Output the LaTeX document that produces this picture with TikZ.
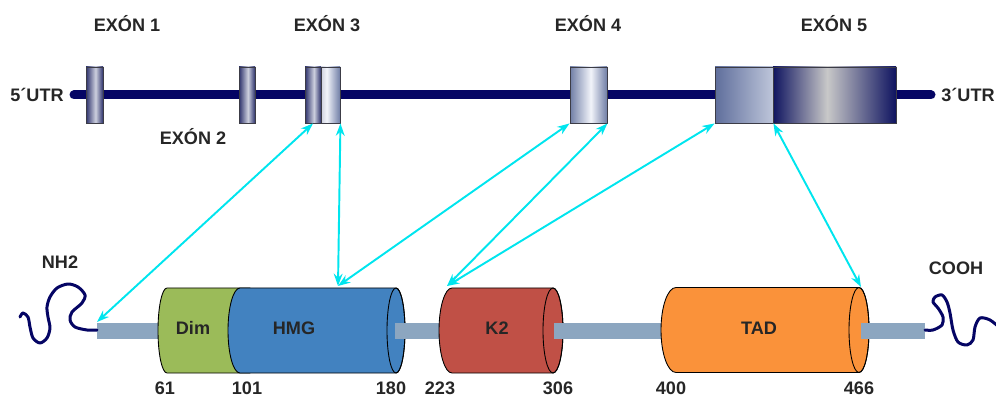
\documentclass[tikz,border=0pt]{standalone}
\usepackage{fontspec}
\setmainfont{Liberation Sans}
\usetikzlibrary{arrows.meta}

\definecolor{gene}{RGB}{5,5,100}
\definecolor{link}{RGB}{0,229,238}
\definecolor{linker}{RGB}{140,166,192}
\definecolor{dimc}{RGB}{155,187,89}
\definecolor{hmgc}{RGB}{66,130,192}
\definecolor{ktwo}{RGB}{192,80,70}
\definecolor{tadc}{RGB}{250,146,58}
\definecolor{exline}{RGB}{60,60,70}

% shadings of the exons (gradient sits between 25bp and 75bp)
\definecolor{sdark}{RGB}{45,50,108}
\definecolor{slight}{RGB}{205,208,222}
\definecolor{swhite}{RGB}{242,244,250}
\definecolor{sgrey}{RGB}{112,126,166}
\definecolor{sblue}{RGB}{95,110,156}
\definecolor{spale}{RGB}{190,198,218}
\definecolor{snavy}{RGB}{15,20,96}
\definecolor{ssilver}{RGB}{200,200,200}
\pgfdeclarehorizontalshading{exdark}{100bp}{color(0bp)=(sdark); color(25bp)=(sdark);
  color(53bp)=(slight); color(75bp)=(sdark); color(100bp)=(sdark)}
\pgfdeclarehorizontalshading{exwhite}{100bp}{color(0bp)=(slight); color(25bp)=(slight);
  color(40bp)=(swhite); color(75bp)=(sgrey); color(100bp)=(sgrey)}
\pgfdeclarehorizontalshading{exmid}{100bp}{color(0bp)=(sgrey); color(25bp)=(sgrey);
  color(53bp)=(swhite); color(75bp)=(sgrey); color(100bp)=(sgrey)}
\pgfdeclarehorizontalshading{exfade}{100bp}{color(0bp)=(sblue); color(25bp)=(sblue);
  color(75bp)=(spale); color(100bp)=(spale)}
\pgfdeclarehorizontalshading{exnavy}{100bp}{color(0bp)=(snavy); color(25bp)=(snavy);
  color(47bp)=(ssilver); color(75bp)=(snavy); color(100bp)=(snavy)}

\begin{document}
\begin{tikzpicture}[x=0.2mm,y=0.2mm,font=\fontsize{10.3}{12}\selectfont\bfseries]

\tikzstyle{exon}=[rectangle,draw=exline,line width=0.5pt,inner sep=0pt,minimum height=11.2mm]
\tikzstyle{lbl}=[inner sep=0pt,text=black!85]
\tikzstyle{pair}=[{Stealth[length=7pt,width=5pt]}-{Stealth[length=7pt,width=5pt]},link,line width=1.1pt]
\tikzstyle{wire}=[gene,line width=0.6mm,line cap=round,line join=round]

\useasboundingbox (0,0) rectangle (996,396);

% gene
\node[lbl,anchor=east] (u5) at (64,301) {5´UTR};
\node[lbl,anchor=west] (u3) at (941,301) {3´UTR};
\draw[gene,line width=1.8mm,line cap=round] ([xshift=2mm]u5.east) -- ([xshift=-2mm]u3.west);

\node[exon,minimum width=3.4mm,shading=exdark]  (e1)  at (94.5,301) {};
\node[exon,minimum width=3.2mm,shading=exdark]  (e2)  at (247,301) {};
\node[exon,minimum width=3.2mm,shading=exdark]  (e3a) at (313,301) {};
\node[exon,minimum width=3.8mm,shading=exwhite] (e3b) at (330.5,301) {};
\node[exon,minimum width=7.4mm,shading=exmid]   (e4)  at (588.5,301) {};
\node[exon,minimum width=11.6mm,shading=exfade] (e5a) at (744,301) {};
\node[exon,minimum width=24.6mm,shading=exnavy] (e5b) at (834.5,301) {};

\node[lbl] (x1) at (127,372) {EXÓN 1};
\node[lbl] (x2) at (193,259) {EXÓN 2};
\node[lbl] (x3) at (327,372) {EXÓN 3};
\node[lbl] (x4) at (588,372) {EXÓN 4};
\node[lbl] (x5) at (834,372) {EXÓN 5};

% protein
\fill[linker] (97,57) rectangle (160,73);
\filldraw[fill=dimc,draw=black,line width=0.5pt] (167,108) arc[start angle=90,end angle=270,x radius=1.8mm,y radius=8.5mm] -- (250,23) -- (250,108) -- cycle;
\filldraw[fill=hmgc,draw=black,line width=0.5pt] (240,108) arc[start angle=90,end angle=270,x radius=2.4mm,y radius=8.5mm] -- (396,23) arc[start angle=-90,end angle=90,x radius=1.8mm,y radius=8.5mm] -- cycle;
\draw[line width=0.5pt] (396,65.5) ellipse[x radius=1.8mm,y radius=8.5mm];
\fill[linker] (395,57) rectangle (441,73);
\filldraw[fill=ktwo,draw=black,line width=0.5pt] (452,108) arc[start angle=90,end angle=270,x radius=2.6mm,y radius=8.5mm] -- (553,23) arc[start angle=-90,end angle=90,x radius=2mm,y radius=8.5mm] -- cycle;
\draw[line width=0.5pt] (553,65.5) ellipse[x radius=2mm,y radius=8.5mm];
\fill[linker] (554,57) rectangle (662,73);
\filldraw[fill=tadc,draw=black,line width=0.5pt] (676,108.5) arc[start angle=90,end angle=270,x radius=3mm,y radius=8.5mm] -- (859,23.5) arc[start angle=-90,end angle=90,x radius=2mm,y radius=8.5mm] -- cycle;
\draw[line width=0.5pt] (859,66) ellipse[x radius=2mm,y radius=8.5mm];
\fill[linker] (861,57) rectangle (925,73);

\draw[wire] plot[smooth] coordinates {(97,66) (87,66) (75,69) (70,76) (72,84) (82,93) (85,101) (78,109) (68,112) (57,108) (50,99) (47,89) (48,79) (50,68) (47,58) (40,53) (33,58) (30,69) (28,79) (23,83) (20,79)};
\draw[wire] plot[smooth] coordinates {(925,66) (933,66) (942,71) (943,79) (938,88) (933,94) (935,99) (942,101) (947,94) (950,83) (953,66) (958,54) (967,51) (973,56) (975,69) (980,78) (990,76) (1000,68)};

\node[lbl] (nh) at (60,134) {NH2};
\node[lbl] (co) at (956,128) {COOH};
\node[lbl] (dim) at (193,68) {Dim};
\node[lbl] (hmg) at (294,68) {HMG};
\node[lbl] (k2)  at (497,68) {K2};
\node[lbl] (tad) at (759,68) {TAD};

\node[lbl] (n61)  at (165,8) {61};
\node[lbl] (n101) at (247,8) {101};
\node[lbl] (n180) at (391,8) {180};
\node[lbl] (n223) at (440,8) {223};
\node[lbl] (n306) at (558,8) {306};
\node[lbl] (n400) at (671,8) {400};
\node[lbl] (n466) at (859,8) {466};

% links between exons and domains
\coordinate (pnt) at (97,74);
\coordinate (phmg) at (338,110);
\coordinate (pk2) at (447,110);
\coordinate (ptad) at (861,109);

\draw[pair] (e3a.south) -- (pnt);
\draw[pair] (e3b.south east) -- (phmg);
\draw[pair] (e4.south west) -- (phmg);
\draw[pair] (e4.south east) -- (pk2);
\draw[pair] (e5a.south west) -- (pk2);
\draw[pair] (e5a.south east) -- (ptad);

\end{tikzpicture}
\end{document}
